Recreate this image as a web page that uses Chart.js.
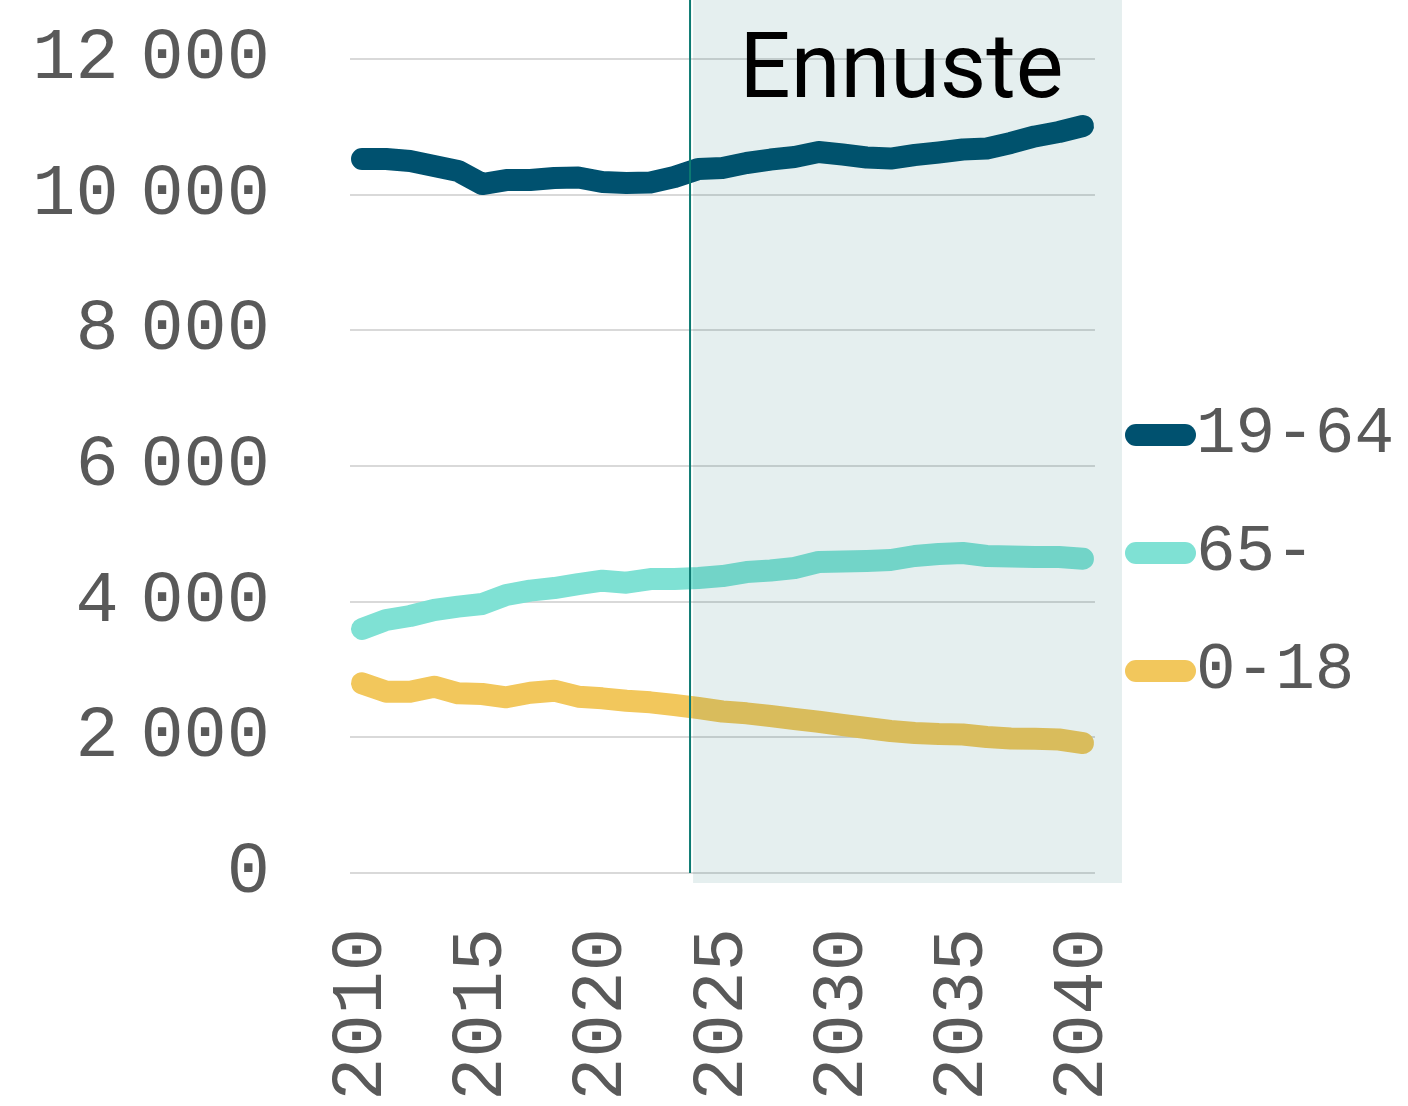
<!DOCTYPE html>
<html><head><meta charset="utf-8">
<script src="https://cdn.jsdelivr.net/npm/chart.js@4"></script>
<style>html,body{margin:0;padding:0;background:#fff}#wrap{width:1408px;height:1106px;position:relative}</style>
</head><body><div id="wrap"><canvas id="c"></canvas></div>
<script>
const years = ['2010','2011','2012','2013','2014','2015','2016','2017','2018','2019','2020','2021','2022','2023','2024','2025','2026','2027','2028','2029','2030','2031','2032','2033','2034','2035','2036','2037','2038','2039','2040'];
const workingAge = [10526,10526,10496,10422,10349,10157,10216,10216,10245,10253,10187,10172,10180,10260,10378,10393,10467,10518,10555,10629,10592,10548,10533,10585,10622,10666,10681,10762,10858,10924,11013];
const elderly = [3597,3730,3789,3877,3926,3966,4098,4162,4201,4260,4309,4280,4334,4334,4349,4378,4437,4459,4496,4585,4592,4600,4614,4673,4703,4717,4673,4666,4658,4658,4633];
const children = [2797,2673,2673,2747,2649,2639,2590,2658,2688,2599,2575,2540,2516,2477,2432,2381,2354,2314,2270,2230,2182,2138,2093,2064,2049,2042,2005,1983,1980,1968,1916];
const yTicks = [0,2000,4000,6000,8000,10000,12000];
const xTickYears = ['2010','2015','2020','2025','2030','2035','2040'];
const seriesLabels = ['19-64','65-','0-18'];
const seriesColors = ['#00516f','#7fe1d4','#f2c75c'];
const forecastLabel = 'Ennuste';
const forecastStartIndex = 13.65;
const yAxisMax = 12870;

const MONO = "'Liberation Mono', monospace";
const LEG_FS = 66, LEG_BOX = 16;
const fmt = v => String(v).replace(/\B(?=(\d{3})+(?!\d))/g, '\u202F');

function pill(color){
  const pillW = 71, lw = 22;
  const W = LEG_BOX + LEG_FS, H = lw + 2;
  const c = document.createElement('canvas');
  c.width = W; c.height = H;
  const g = c.getContext('2d');
  g.strokeStyle = color; g.lineWidth = lw; g.lineCap = 'round';
  g.beginPath();
  g.moveTo(W - pillW + lw/2, H/2);
  g.lineTo(W - lw/2, H/2);
  g.stroke();
  return c;
}

const forecastPlugin = {
  id: 'forecast',
  afterDatasetsDraw(chart){
    const {ctx, chartArea, scales:{x}} = chart;
    const lx = x.getPixelForValue(forecastStartIndex);
    const left = lx + 3, right = chartArea.right + 27, bottom = chartArea.bottom + 10;
    ctx.save();
    ctx.fillStyle = 'rgba(0,100,100,0.1)';
    ctx.fillRect(left, 0, right - left, bottom);
    ctx.strokeStyle = '#0c7a72';
    ctx.lineWidth = 2;
    ctx.beginPath(); ctx.moveTo(lx, 0); ctx.lineTo(lx, chartArea.bottom); ctx.stroke();
    ctx.fillStyle = '#000';
    ctx.font = "90px Roboto";
    ctx.textAlign = 'center'; ctx.textBaseline = 'alphabetic';
    ctx.fillText(forecastLabel, (left + right)/2 - 6, 97);
    ctx.restore();
  }
};

const mk = (i, data) => ({
  label: seriesLabels[i], data, borderColor: seriesColors[i], backgroundColor: seriesColors[i],
  borderWidth: 22, borderCapStyle: 'round', borderJoinStyle: 'round', pointRadius: 0, tension: 0, fill: false
});

new Chart(document.getElementById('c'), {
  type: 'line',
  data: { labels: years, datasets: [mk(0, workingAge), mk(1, elderly), mk(2, children)] },
  options: {
    responsive: true, maintainAspectRatio: false, animation: false, devicePixelRatio: 1,
    layout: { padding: { top: 0, left: 0, right: 4, bottom: 0 } },
    plugins: {
      tooltip: { enabled: false },
      legend: {
        position: 'right', align: 'center',
        labels: {
          usePointStyle: true, pointStyleWidth: LEG_BOX, padding: 52,
          color: '#595959', font: { family: MONO, size: LEG_FS },
          generateLabels(chart){
            const items = Chart.defaults.plugins.legend.labels.generateLabels(chart);
            items.forEach(it => { it.pointStyle = pill(seriesColors[it.datasetIndex]); });
            return items;
          }
        }
      }
    },
    scales: {
      x: {
        offset: true,
        grid: { display: false, drawTicks: false },
        border: { display: false },
        afterFit(s){ s.height = 233; s.paddingLeft = 0; s.paddingRight = 0; },
        ticks: {
          autoSkip: false, maxRotation: 90, minRotation: 90, padding: 55,
          color: '#595959', font: { family: MONO, size: 72 },
          callback(v, i){ const y = years[i]; return xTickYears.includes(y) ? y : ''; }
        }
      },
      y: {
        min: 0, max: yAxisMax,
        afterBuildTicks(axis){ axis.ticks = yTicks.map(v => ({ value: v })); },
        afterFit(s){ s.width = 350; s.paddingTop = 0; s.paddingBottom = 0; },
        grid: { color: '#d9d9d9', lineWidth: 2, drawTicks: false },
        border: { display: false },
        ticks: { padding: 80, color: '#595959', font: { family: MONO, size: 72 }, callback: v => fmt(v) }
      }
    }
  },
  plugins: [forecastPlugin]
});
</script></body></html>
